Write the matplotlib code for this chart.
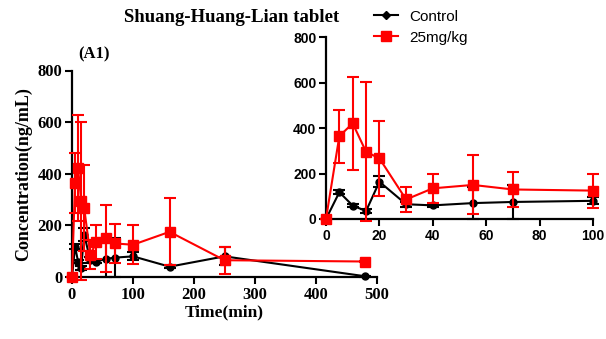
import matplotlib
matplotlib.use("Agg")
import matplotlib.pyplot as plt
from matplotlib.lines import Line2D

# Data
time = [0, 5, 10, 15, 20, 30, 40, 55, 70, 100, 160, 250, 480]
ctrl_mean = [0, 118, 59, 35, 164, 65, 60, 70, 75, 80, 40, 80, 3]
ctrl_sd = [0, 10, 6, 8, 25, 12, 6, 70, 75, 15, 6, 35, 2]
dose_mean = [0, 365, 421, 296, 267, 86, 135, 150, 130, 125, 175, 65, 60]
dose_sd = [0, 117, 205, 306, 166, 56, 65, 130, 75, 75, 130, 52, 2]

main_xticks = [0, 100, 200, 300, 400, 500]
inset_xticks = [0, 20, 40, 60, 80, 100]
yticks = [0, 200, 400, 600, 800]

W, H = 606, 339
fig = plt.figure(figsize=(W / 100, H / 100), dpi=100)

def px_axes(l, t, r, b):
    return fig.add_axes([l / W, 1 - b / H, (r - l) / W, (b - t) / H])

serif = "Liberation Serif"
sans = "Liberation Sans"

def style(ax, font, fs):
    for s in ("top", "right"):
        ax.spines[s].set_visible(False)
    for s in ("left", "bottom"):
        ax.spines[s].set_linewidth(1.6)
    ax.tick_params(direction="out", length=5, width=1.5, pad=2)
    for lab in ax.get_xticklabels() + ax.get_yticklabels():
        lab.set_fontfamily(font)
        lab.set_fontweight("bold")
        lab.set_fontsize(fs)

def draw(ax, xmax):
    idx = [i for i, t in enumerate(time) if t <= xmax]
    t = [time[i] for i in idx]
    ax.errorbar(t, [ctrl_mean[i] for i in idx], yerr=[ctrl_sd[i] for i in idx],
                color="black", marker="o", markersize=5, lw=1.5, elinewidth=1.5,
                capsize=4, capthick=1.5, clip_on=False, zorder=3)
    ax.errorbar(t, [dose_mean[i] for i in idx], yerr=[dose_sd[i] for i in idx],
                color="#ff0000", marker="s", markersize=7, lw=1.5, elinewidth=1.5,
                capsize=4, capthick=1.5, clip_on=False, zorder=4)

# Main axes
ax = px_axes(72, 70.5, 377, 277)
draw(ax, 500)
ax.set_xlim(0, 500)
ax.set_ylim(0, 800)
ax.set_xticks(main_xticks)
ax.set_yticks(yticks)
ax.set_facecolor("none")
style(ax, serif, 12)
ax.set_xlabel("Time(min)", fontfamily=serif, fontweight="bold", fontsize=12.5, labelpad=1)
ax.set_ylabel("Concentration(ng/mL)", fontfamily=serif, fontweight="bold", fontsize=13, labelpad=4)
ax.text(0.02, 1.04, "(A1)", transform=ax.transAxes, fontfamily=serif,
        fontweight="bold", fontsize=12, ha="left", va="bottom")

# Inset
ai = px_axes(326, 37.3, 593, 219)
draw(ai, 100)
ai.set_xlim(0, 100)
ai.set_ylim(0, 800)
ai.set_xticks(inset_xticks)
ai.set_yticks(yticks)
ai.set_facecolor("none")
style(ai, sans, 10)

fig.text(232 / W, 1 - 18 / H, "Shuang-Huang-Lian tablet", fontfamily=serif,
         fontweight="bold", fontsize=13.5, ha="center", va="center")

handles = [Line2D([], [], color="black", marker="D", markersize=4, lw=1.5),
           Line2D([], [], color="#ff0000", marker="s", markersize=7, lw=1.5)]
labels = ["Control", "25mg/kg"]
fig.legend(handles, labels, loc="upper left", bbox_to_anchor=(360 / W, 1 + 4 / H),
           frameon=False, prop={"family": sans, "size": 11},
           handlelength=1.6, handletextpad=0.7, labelspacing=0.45)

fig.savefig("out.png", dpi=100)
